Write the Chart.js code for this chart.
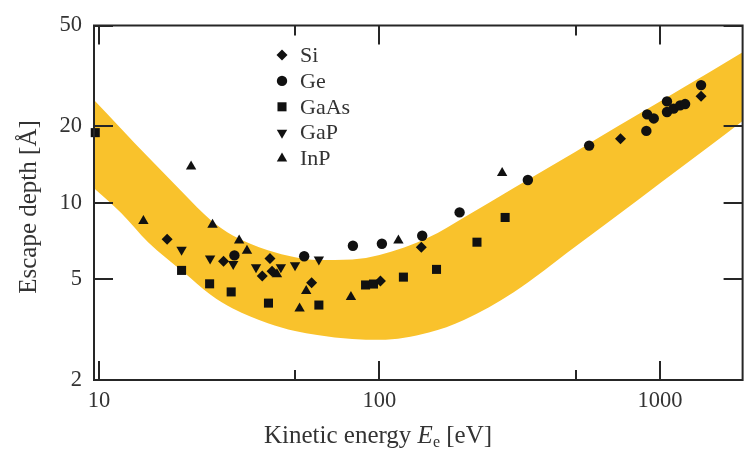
<!DOCTYPE html>
<html>
<head>
<meta charset="utf-8">
<script src="https://cdn.jsdelivr.net/npm/chart.js@4.4.1/dist/chart.umd.min.js"></script>
<style>
  html, body { margin: 0; padding: 0; background: #ffffff; }
  #wrap { width: 749px; height: 449px; }
</style>
</head>
<body>
<div id="wrap"><canvas id="c" width="749" height="449"></canvas></div>
<script>
// Universal-curve band: upper and lower edges sampled along the energy axis
const bandEnergy = [9.6, 12, 15, 20, 25, 30, 40, 50, 60, 80, 100, 150, 200, 300, 500, 700, 1000, 1500, 1970];
const bandUpper  = [25.4, 19.6, 15.1, 10.9, 8.55, 7.42, 6.49, 6.10, 5.95, 5.98, 6.22, 7.31, 8.75, 11.4, 15.9, 19.9, 25.1, 32.7, 39.2];
const bandLower  = [11.4, 9.11, 6.97, 5.33, 4.34, 3.83, 3.35, 3.12, 3.01, 2.90, 2.88, 3.08, 3.45, 4.43, 6.72, 8.87, 11.95, 16.7, 21.0];

// Measured escape depths (energy in eV, depth in Å)
const siEnergy   = [17.5, 27.8, 38.2, 40.7, 41.4, 57.3, 100.8, 141, 723, 1401];
const siDepth    = [7.18, 5.88, 5.14, 6.03, 5.37, 4.84, 4.91, 6.67, 17.9, 26.3];
const geEnergy   = [30.4, 53.9, 80.4, 102, 142, 193, 338, 559, 894, 900, 950, 1059, 1059, 1118, 1180, 1229, 1401];
const geDepth    = [6.20, 6.15, 6.77, 6.89, 7.41, 9.16, 12.3, 16.8, 19.2, 22.3, 21.5, 25.1, 22.8, 23.5, 24.2, 24.5, 29.1];
const gaasEnergy = [9.7, 19.7, 24.8, 29.6, 40.2, 60.8, 89.2, 95.2, 121.7, 159.7, 222.6, 280.5];
const gaasDepth  = [18.9, 5.41, 4.79, 4.45, 4.02, 3.95, 4.74, 4.78, 5.09, 5.46, 6.99, 8.75];
const gapEnergy  = [19.7, 24.9, 30.1, 36.3, 44.5, 50.0, 60.8];
const gapDepth   = [6.53, 6.03, 5.74, 5.57, 5.57, 5.67, 5.97];
const inpEnergy  = [14.4, 21.3, 25.4, 31.6, 33.7, 43.1, 51.9, 54.8, 79.1, 116.8, 273.7];
const inpDepth   = [8.48, 13.9, 8.18, 7.10, 6.47, 5.23, 3.83, 4.49, 4.25, 7.10, 13.1];

// Axis ticks
const xMajorTicks = [10, 100, 1000];
const xTickLabels = ['10', '100', '1000'];
const xMinorTicks = [50, 500];
const yTicks      = [2, 5, 10, 20, 50];
const yTickLabels = ['2', '5', '10', '20', '50'];

const SERIF = "'Liberation Serif', 'Times New Roman', serif";
const TEXT = '#333333';
const INK = '#111111';
const BAND = 'rgb(249, 194, 44)';

const pts = (xs, ys) => xs.map((x, i) => ({ x, y: ys[i] }));

function markerSet(label, xs, ys, style, rotation, radius) {
  return {
    label, data: pts(xs, ys), pointStyle: style, rotation,
    pointRadius: radius, pointHoverRadius: radius,
    backgroundColor: INK, borderColor: INK, borderWidth: 0,
    showLine: false, clip: false, order: 0, isMarker: true
  };
}

// Inward ticks on all four sides plus the box frame
const frameTicks = {
  id: 'frameTicks',
  afterDatasetsDraw(chart) {
    const { ctx, chartArea: a, scales: { x, y } } = chart;
    const major = 19, minor = 10;
    ctx.save();
    ctx.strokeStyle = '#262626';
    ctx.lineWidth = 2;
    ctx.strokeRect(a.left, a.top, a.right - a.left, a.bottom - a.top);
    ctx.beginPath();
    const vTick = (v, len) => {
      const px = Math.round(x.getPixelForValue(v));
      ctx.moveTo(px, a.bottom); ctx.lineTo(px, a.bottom - len);
      ctx.moveTo(px, a.top);    ctx.lineTo(px, a.top + len);
    };
    xMajorTicks.forEach(v => vTick(v, major));
    xMinorTicks.forEach(v => vTick(v, minor));
    yTicks.forEach(v => {
      const py = Math.round(y.getPixelForValue(v));
      ctx.moveTo(a.left, py);  ctx.lineTo(a.left + major, py);
      ctx.moveTo(a.right, py); ctx.lineTo(a.right - major, py);
    });
    ctx.stroke();
    ctx.restore();
  }
};

// Inset key, axis titles
const annotations = {
  id: 'annotations',
  afterDraw(chart) {
    const { ctx } = chart;
    ctx.save();
    ctx.fillStyle = TEXT;

    // key
    const keyX = 282, keyText = 300, keyTop = 55, keyStep = 25.9;
    let row = 0;
    chart.data.datasets.forEach(ds => {
      if (!ds.isMarker) return;
      const cy = keyTop + row * keyStep;
      ctx.fillStyle = INK;
      ctx.strokeStyle = INK;
      const opts = { pointStyle: ds.pointStyle, rotation: ds.rotation || 0, radius: ds.pointRadius, borderWidth: 0 };
      if (Chart.helpers && Chart.helpers.drawPoint) {
        Chart.helpers.drawPoint(ctx, opts, keyX, cy);
      }
      ctx.fillStyle = TEXT;
      ctx.font = `22px ${SERIF}`;
      ctx.textAlign = 'left';
      ctx.textBaseline = 'middle';
      ctx.fillText(ds.label, keyText, cy + 1);
      row++;
    });

    // x title with italic E and subscript e
    const parts = [
      { t: 'Kinetic energy ', f: `25px ${SERIF}`, dy: 0 },
      { t: 'E', f: `italic 25px ${SERIF}`, dy: 0 },
      { t: 'e', f: `16px ${SERIF}`, dy: 4 },
      { t: ' [eV]', f: `25px ${SERIF}`, dy: 0 }
    ];
    let total = 0;
    parts.forEach(p => { ctx.font = p.f; p.w = ctx.measureText(p.t).width; total += p.w; });
    let cx = 378 - total / 2;
    ctx.textAlign = 'left';
    ctx.textBaseline = 'alphabetic';
    parts.forEach(p => { ctx.font = p.f; ctx.fillText(p.t, cx, 443 + p.dy); cx += p.w; });

    // y title
    ctx.translate(36, 207);
    ctx.rotate(-Math.PI / 2);
    ctx.font = `25px ${SERIF}`;
    ctx.textAlign = 'center';
    ctx.textBaseline = 'alphabetic';
    ctx.fillText('Escape depth [Å]', 0, 0);
    ctx.restore();
  }
};

new Chart(document.getElementById('c'), {
  type: 'scatter',
  data: {
    datasets: [
      { type: 'line', label: 'upper', data: pts(bandEnergy, bandUpper), borderWidth: 0, pointRadius: 0,
        fill: false, cubicInterpolationMode: 'monotone', order: 10, borderColor: BAND },
      { type: 'line', label: 'lower', data: pts(bandEnergy, bandLower), borderWidth: 0, pointRadius: 0,
        fill: '-1', backgroundColor: BAND, cubicInterpolationMode: 'monotone', order: 10, borderColor: BAND },
      markerSet('Si', siEnergy, siDepth, 'rectRot', 0, 5.5),
      markerSet('Ge', geEnergy, geDepth, 'circle', 0, 5.2),
      markerSet('GaAs', gaasEnergy, gaasDepth, 'rect', 0, 6.4),
      markerSet('GaP', gapEnergy, gapDepth, 'triangle', 180, 6),
      markerSet('InP', inpEnergy, inpDepth, 'triangle', 0, 6)
    ]
  },
  options: {
    responsive: false,
    animation: false,
    devicePixelRatio: 1,
    layout: { padding: { top: 19, right: 3, left: 0, bottom: 0 } },
    plugins: { legend: { display: false }, tooltip: { enabled: false } },
    scales: {
      x: {
        type: 'logarithmic', position: 'bottom', min: 9.6, max: 1970,
        grid: { display: false, drawTicks: false }, border: { display: false },
        afterBuildTicks: s => { s.ticks = xMajorTicks.map(v => ({ value: v })); },
        afterFit: s => { s.height = 69; },
        ticks: {
          autoSkip: false, maxRotation: 0, padding: 8, color: TEXT,
          font: { family: SERIF, size: 22.5 },
          callback: (v, i) => xTickLabels[i]
        }
      },
      y: {
        type: 'logarithmic', position: 'left', min: 2, max: 50,
        grid: { display: false, drawTicks: false }, border: { display: false },
        afterBuildTicks: s => { s.ticks = yTicks.map(v => ({ value: v })); },
        afterFit: s => { s.width = 94; },
        ticks: {
          autoSkip: false, padding: 12, color: TEXT,
          font: { family: SERIF, size: 22.5 },
          callback: (v, i) => yTickLabels[i]
        }
      }
    }
  },
  plugins: [frameTicks, annotations]
});
</script>
</body>
</html>
